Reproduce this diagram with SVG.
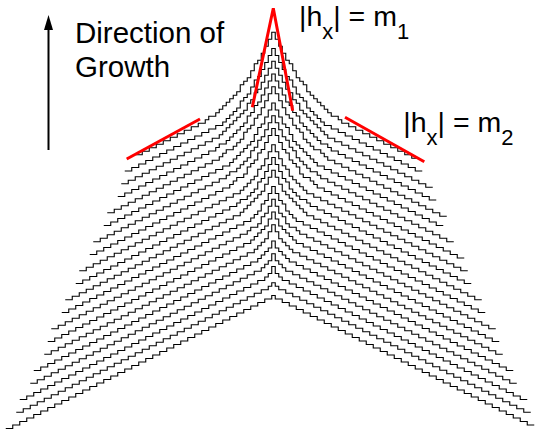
<svg xmlns="http://www.w3.org/2000/svg" width="537" height="438" viewBox="0 0 537 438">
<style>
.c{fill:none;stroke:#000;stroke-width:1.1;stroke-linejoin:miter}
.r{fill:none;stroke:#ff0000;stroke-width:3}
.t{font-family:"Liberation Sans",Arial,sans-serif;font-size:28.5px;fill:#000}
.big{font-size:29.5px}
.s{font-size:22px}
</style>
<rect width="537" height="438" fill="#fff"/>
<g id="curves">
<path id="curve0" class="c" d="M5.75 428.5 h7v-3.5 h7v-3.5 h7v-3.5 h7v-3.5 h7v-3.5 h7v-3.5 h7v-3.5 h7v-3.5 h7v-3.5 h7v-3.5 h7v-3.5 h7v-3.5 h7v-3.5 h7v-3.5 h7v-3.5 h7v-3.5 h7v-3.5 h7v-3.5 h7v-3.5 h7v-3.5 h7v-3.5 h7v-3.5 h7v-3.5 h7v-3.5 h7v-3.5 h7v-3.5 h7v-3.5 h7v-3.5 h7v-3.5 h7v-3.5 h7v-3.5 h7v-3.5 h7v-3.5 h7v-3.5 h7v-3.5 h7v-3.5 h7v-3.5 h7v-3.5 h3.5 v3.5h7 v3.5h7 v3.5h7 v3.5h7 v3.5h7 v3.5h7 v3.5h7 v3.5h7 v3.5h7 v3.5h7 v3.5h7 v3.5h7 v3.5h7 v3.5h7 v3.5h7 v3.5h7 v3.5h7 v3.5h7 v3.5h7 v3.5h7 v3.5h7 v3.5h7 v3.5h7 v3.5h7 v3.5h7 v3.5h7 v3.5h7 v3.5h7 v3.5h7 v3.5h7 v3.5h7 v3.5h7 v3.5h7 v3.5h7 v3.5h7 v3.5h7 v3.5h7"/>
<path id="curve1" class="c" d="M16.25 412.25 h7v-3.5 h7v-3.5 h7v-3.5 h7v-3.5 h7v-3.5 h7v-3.5 h7v-3.5 h7v-3.5 h7v-3.5 h7v-3.5 h7v-3.5 h7v-3.5 h7v-3.5 h7v-3.5 h7v-3.5 h7v-3.5 h7v-3.5 h7v-3.5 h7v-3.5 h7v-3.5 h7v-3.5 h7v-3.5 h7v-3.5 h7v-3.5 h7v-3.5 h7v-3.5 h7v-3.5 h7v-3.5 h7v-3.5 h7v-3.5 h7v-3.5 h7v-3.5 h7v-3.5 h7v-3.5 h7v-3.5 h7v-3.5 h3.5v-3.5h3.5v3.5h3.5 v3.5h7 v3.5h7 v3.5h7 v3.5h7 v3.5h7 v3.5h7 v3.5h7 v3.5h7 v3.5h7 v3.5h7 v3.5h7 v3.5h7 v3.5h7 v3.5h7 v3.5h7 v3.5h7 v3.5h7 v3.5h7 v3.5h7 v3.5h7 v3.5h7 v3.5h7 v3.5h7 v3.5h7 v3.5h7 v3.5h7 v3.5h7 v3.5h7 v3.5h7 v3.5h7 v3.5h7 v3.5h7 v3.5h7 v3.5h7 v3.5h7 v3.5h7"/>
<path id="curve2" class="c" d="M19.75 399.5 h7v-3.5 h7v-3.5 h7v-3.5 h7v-3.5 h7v-3.5 h7v-3.5 h7v-3.5 h7v-3.5 h7v-3.5 h7v-3.5 h7v-3.5 h7v-3.5 h7v-3.5 h7v-3.5 h7v-3.5 h7v-3.5 h7v-3.5 h7v-3.5 h7v-3.5 h7v-3.5 h7v-3.5 h7v-3.5 h7v-3.5 h7v-3.5 h7v-3.5 h7v-3.5 h7v-3.5 h7v-3.5 h7v-3.5 h7v-3.5 h7v-3.5 h7v-3.5 h7v-3.5 h7v-3.5 h7v-3.5 h3.5v-3.5h3.5v-7h3.5v7h3.5v3.5h3.5 v3.5h7 v3.5h7 v3.5h7 v3.5h7 v3.5h7 v3.5h7 v3.5h7 v3.5h7 v3.5h7 v3.5h7 v3.5h7 v3.5h7 v3.5h7 v3.5h7 v3.5h7 v3.5h7 v3.5h7 v3.5h7 v3.5h7 v3.5h7 v3.5h7 v3.5h7 v3.5h7 v3.5h7 v3.5h7 v3.5h7 v3.5h7 v3.5h7 v3.5h7 v3.5h7 v3.5h7 v3.5h7 v3.5h7 v3.5h7 v3.5h7"/>
<path id="curve3" class="c" d="M30.25 383.25 h7v-3.5 h7v-3.5 h7v-3.5 h7v-3.5 h7v-3.5 h7v-3.5 h7v-3.5 h7v-3.5 h7v-3.5 h7v-3.5 h7v-3.5 h7v-3.5 h7v-3.5 h7v-3.5 h7v-3.5 h7v-3.5 h7v-3.5 h7v-3.5 h7v-3.5 h7v-3.5 h7v-3.5 h7v-3.5 h7v-3.5 h7v-3.5 h7v-3.5 h7v-3.5 h7v-3.5 h7v-3.5 h7v-3.5 h7v-3.5 h7v-3.5 h7v-3.5 h7v-3.5 h3.5v-3.5h3.5v-3.5h3.5v-7h3.5v7h3.5v3.5h3.5v3.5h3.5 v3.5h7 v3.5h7 v3.5h7 v3.5h7 v3.5h7 v3.5h7 v3.5h7 v3.5h7 v3.5h7 v3.5h7 v3.5h7 v3.5h7 v3.5h7 v3.5h7 v3.5h7 v3.5h7 v3.5h7 v3.5h7 v3.5h7 v3.5h7 v3.5h7 v3.5h7 v3.5h7 v3.5h7 v3.5h7 v3.5h7 v3.5h7 v3.5h7 v3.5h7 v3.5h7 v3.5h7 v3.5h7 v3.5h7"/>
<path id="curve4" class="c" d="M33.75 370.5 h7v-3.5 h7v-3.5 h7v-3.5 h7v-3.5 h7v-3.5 h7v-3.5 h7v-3.5 h7v-3.5 h7v-3.5 h7v-3.5 h7v-3.5 h7v-3.5 h7v-3.5 h7v-3.5 h7v-3.5 h7v-3.5 h7v-3.5 h7v-3.5 h7v-3.5 h7v-3.5 h7v-3.5 h7v-3.5 h7v-3.5 h7v-3.5 h7v-3.5 h7v-3.5 h7v-3.5 h7v-3.5 h7v-3.5 h7v-3.5 h7v-3.5 h7v-3.5 h3.5v-3.5h3.5v-3.5h3.5v-3.5h3.5v-7h3.5v7h3.5v3.5h3.5v3.5h3.5v3.5h3.5 v3.5h7 v3.5h7 v3.5h7 v3.5h7 v3.5h7 v3.5h7 v3.5h7 v3.5h7 v3.5h7 v3.5h7 v3.5h7 v3.5h7 v3.5h7 v3.5h7 v3.5h7 v3.5h7 v3.5h7 v3.5h7 v3.5h7 v3.5h7 v3.5h7 v3.5h7 v3.5h7 v3.5h7 v3.5h7 v3.5h7 v3.5h7 v3.5h7 v3.5h7 v3.5h7 v3.5h7 v3.5h7"/>
<path id="curve5" class="c" d="M44.25 354.25 h7v-3.5 h7v-3.5 h7v-3.5 h7v-3.5 h7v-3.5 h7v-3.5 h7v-3.5 h7v-3.5 h7v-3.5 h7v-3.5 h7v-3.5 h7v-3.5 h7v-3.5 h7v-3.5 h7v-3.5 h7v-3.5 h7v-3.5 h7v-3.5 h7v-3.5 h7v-3.5 h7v-3.5 h7v-3.5 h7v-3.5 h7v-3.5 h7v-3.5 h7v-3.5 h7v-3.5 h7v-3.5 h7v-3.5 h7v-3.5 h3.5v-3.5h3.5v-3.5h3.5v-3.5h3.5v-7h3.5v-7h3.5v7h3.5v7h3.5v3.5h3.5v3.5h3.5v3.5h3.5 v3.5h7 v3.5h7 v3.5h7 v3.5h7 v3.5h7 v3.5h7 v3.5h7 v3.5h7 v3.5h7 v3.5h7 v3.5h7 v3.5h7 v3.5h7 v3.5h7 v3.5h7 v3.5h7 v3.5h7 v3.5h7 v3.5h7 v3.5h7 v3.5h7 v3.5h7 v3.5h7 v3.5h7 v3.5h7 v3.5h7 v3.5h7 v3.5h7 v3.5h7 v3.5h7"/>
<path id="curve6" class="c" d="M47.75 341.5 h7v-3.5 h7v-3.5 h7v-3.5 h7v-3.5 h7v-3.5 h7v-3.5 h7v-3.5 h7v-3.5 h7v-3.5 h7v-3.5 h7v-3.5 h7v-3.5 h7v-3.5 h7v-3.5 h7v-3.5 h7v-3.5 h7v-3.5 h7v-3.5 h7v-3.5 h7v-3.5 h7v-3.5 h7v-3.5 h7v-3.5 h7v-3.5 h7v-3.5 h7v-3.5 h7v-3.5 h7v-3.5 h7v-3.5 h3.5v-3.5h3.5v-3.5h3.5v-3.5h3.5v-3.5h3.5v-7h3.5v-7h3.5v7h3.5v7h3.5v3.5h3.5v3.5h3.5v3.5h3.5v3.5h3.5 v3.5h7 v3.5h7 v3.5h7 v3.5h7 v3.5h7 v3.5h7 v3.5h7 v3.5h7 v3.5h7 v3.5h7 v3.5h7 v3.5h7 v3.5h7 v3.5h7 v3.5h7 v3.5h7 v3.5h7 v3.5h7 v3.5h7 v3.5h7 v3.5h7 v3.5h7 v3.5h7 v3.5h7 v3.5h7 v3.5h7 v3.5h7 v3.5h7 v3.5h7"/>
<path id="curve7" class="c" d="M51.25 328.75 h7v-3.5 h7v-3.5 h7v-3.5 h7v-3.5 h7v-3.5 h7v-3.5 h7v-3.5 h7v-3.5 h7v-3.5 h7v-3.5 h7v-3.5 h7v-3.5 h7v-3.5 h7v-3.5 h7v-3.5 h7v-3.5 h7v-3.5 h7v-3.5 h7v-3.5 h7v-3.5 h7v-3.5 h7v-3.5 h7v-3.5 h7v-3.5 h7v-3.5 h7v-3.5 h7v-3.5 h7v-3.5 h3.5v-3.5h7v-3.5h3.5v-7h3.5v-3.5h3.5v-7h3.5v-7h3.5v7h3.5v7h3.5v3.5h3.5v7h3.5v3.5h7v3.5h3.5 v3.5h7 v3.5h7 v3.5h7 v3.5h7 v3.5h7 v3.5h7 v3.5h7 v3.5h7 v3.5h7 v3.5h7 v3.5h7 v3.5h7 v3.5h7 v3.5h7 v3.5h7 v3.5h7 v3.5h7 v3.5h7 v3.5h7 v3.5h7 v3.5h7 v3.5h7 v3.5h7 v3.5h7 v3.5h7 v3.5h7 v3.5h7 v3.5h7"/>
<path id="curve8" class="c" d="M61.75 312.5 h7v-3.5 h7v-3.5 h7v-3.5 h7v-3.5 h7v-3.5 h7v-3.5 h7v-3.5 h7v-3.5 h7v-3.5 h7v-3.5 h7v-3.5 h7v-3.5 h7v-3.5 h7v-3.5 h7v-3.5 h7v-3.5 h7v-3.5 h7v-3.5 h7v-3.5 h7v-3.5 h7v-3.5 h7v-3.5 h7v-3.5 h7v-3.5 h7v-3.5 h7v-3.5 h7v-3.5h3.5v-3.5h3.5v-3.5h3.5v-7h3.5v-3.5h3.5v-7h3.5v-7h3.5v7h3.5v7h3.5v3.5h3.5v7h3.5v3.5h3.5v3.5h3.5v3.5h7 v3.5h7 v3.5h7 v3.5h7 v3.5h7 v3.5h7 v3.5h7 v3.5h7 v3.5h7 v3.5h7 v3.5h7 v3.5h7 v3.5h7 v3.5h7 v3.5h7 v3.5h7 v3.5h7 v3.5h7 v3.5h7 v3.5h7 v3.5h7 v3.5h7 v3.5h7 v3.5h7 v3.5h7 v3.5h7 v3.5h7"/>
<path id="curve9" class="c" d="M65.25 299.75 h7v-3.5 h7v-3.5 h7v-3.5 h7v-3.5 h7v-3.5 h7v-3.5 h7v-3.5 h7v-3.5 h7v-3.5 h7v-3.5 h7v-3.5 h7v-3.5 h7v-3.5 h7v-3.5 h7v-3.5 h7v-3.5 h7v-3.5 h7v-3.5 h7v-3.5 h7v-3.5 h7v-3.5 h7v-3.5 h7v-3.5 h7v-3.5 h7v-3.5 h3.5v-3.5h3.5v-3.5h3.5v-3.5h3.5v-3.5h3.5v-3.5h3.5v-3.5h3.5v-7h3.5v-7h3.5v-7h3.5v7h3.5v7h3.5v7h3.5v3.5h3.5v3.5h3.5v3.5h3.5v3.5h3.5v3.5h3.5v3.5h3.5 v3.5h7 v3.5h7 v3.5h7 v3.5h7 v3.5h7 v3.5h7 v3.5h7 v3.5h7 v3.5h7 v3.5h7 v3.5h7 v3.5h7 v3.5h7 v3.5h7 v3.5h7 v3.5h7 v3.5h7 v3.5h7 v3.5h7 v3.5h7 v3.5h7 v3.5h7 v3.5h7 v3.5h7 v3.5h7"/>
<path id="curve10" class="c" d="M75.75 283.5 h7v-3.5 h7v-3.5 h7v-3.5 h7v-3.5 h7v-3.5 h7v-3.5 h7v-3.5 h7v-3.5 h7v-3.5 h7v-3.5 h7v-3.5 h7v-3.5 h7v-3.5 h7v-3.5 h7v-3.5 h7v-3.5 h7v-3.5 h7v-3.5 h7v-3.5 h7v-3.5 h7v-3.5 h7v-3.5 h7v-3.5 h3.5v-3.5h7v-3.5h3.5v-3.5h3.5v-3.5h3.5v-7h3.5v-3.5h3.5v-7h3.5v-7h3.5v-7h3.5v7h3.5v7h3.5v7h3.5v3.5h3.5v7h3.5v3.5h3.5v3.5h3.5v3.5h7v3.5h3.5 v3.5h7 v3.5h7 v3.5h7 v3.5h7 v3.5h7 v3.5h7 v3.5h7 v3.5h7 v3.5h7 v3.5h7 v3.5h7 v3.5h7 v3.5h7 v3.5h7 v3.5h7 v3.5h7 v3.5h7 v3.5h7 v3.5h7 v3.5h7 v3.5h7 v3.5h7 v3.5h7"/>
<path id="curve11" class="c" d="M79.25 270.75 h7v-3.5 h7v-3.5 h7v-3.5 h7v-3.5 h7v-3.5 h7v-3.5 h7v-3.5 h7v-3.5 h7v-3.5 h7v-3.5 h7v-3.5 h7v-3.5 h7v-3.5 h7v-3.5 h7v-3.5 h7v-3.5 h7v-3.5 h7v-3.5 h7v-3.5 h7v-3.5 h7v-3.5 h7v-3.5 h7v-3.5h3.5v-3.5h3.5v-3.5h3.5v-3.5h3.5v-3.5h3.5v-7h3.5v-3.5h3.5v-7h3.5v-7h3.5v-7h3.5v7h3.5v7h3.5v7h3.5v3.5h3.5v7h3.5v3.5h3.5v3.5h3.5v3.5h3.5v3.5h3.5v3.5h7 v3.5h7 v3.5h7 v3.5h7 v3.5h7 v3.5h7 v3.5h7 v3.5h7 v3.5h7 v3.5h7 v3.5h7 v3.5h7 v3.5h7 v3.5h7 v3.5h7 v3.5h7 v3.5h7 v3.5h7 v3.5h7 v3.5h7 v3.5h7 v3.5h7 v3.5h7"/>
<path id="curve12" class="c" d="M89.75 254.5 h7v-3.5 h7v-3.5 h7v-3.5 h7v-3.5 h7v-3.5 h7v-3.5 h7v-3.5 h7v-3.5 h7v-3.5 h7v-3.5 h7v-3.5 h7v-3.5 h7v-3.5 h7v-3.5 h7v-3.5 h7v-3.5 h7v-3.5 h7v-3.5 h7v-3.5 h7v-3.5 h3.5v-3.5h3.5v-3.5h7v-3.5h3.5v-7h3.5v-3.5h3.5v-3.5h3.5v-7h3.5v-3.5h3.5v-7h3.5v-7h3.5v-7h3.5v7h3.5v7h3.5v7h3.5v3.5h3.5v7h3.5v3.5h3.5v3.5h3.5v7h3.5v3.5h7v3.5h3.5v3.5h3.5 v3.5h7 v3.5h7 v3.5h7 v3.5h7 v3.5h7 v3.5h7 v3.5h7 v3.5h7 v3.5h7 v3.5h7 v3.5h7 v3.5h7 v3.5h7 v3.5h7 v3.5h7 v3.5h7 v3.5h7 v3.5h7 v3.5h7 v3.5h7 v3.5h7"/>
<path id="curve13" class="c" d="M93.25 241.75 h7v-3.5 h7v-3.5 h7v-3.5 h7v-3.5 h7v-3.5 h7v-3.5 h7v-3.5 h7v-3.5 h7v-3.5 h7v-3.5 h7v-3.5 h7v-3.5 h7v-3.5 h7v-3.5 h7v-3.5 h7v-3.5 h7v-3.5 h7v-3.5 h7v-3.5 h3.5v-3.5h7v-3.5h3.5v-3.5h3.5v-3.5h3.5v-3.5h3.5v-7h3.5v-3.5h3.5v-7h3.5v-3.5h3.5v-7h3.5v-7h3.5v-7h3.5v7h3.5v7h3.5v7h3.5v3.5h3.5v7h3.5v3.5h3.5v7h3.5v3.5h3.5v3.5h3.5v3.5h3.5v3.5h7v3.5h3.5 v3.5h7 v3.5h7 v3.5h7 v3.5h7 v3.5h7 v3.5h7 v3.5h7 v3.5h7 v3.5h7 v3.5h7 v3.5h7 v3.5h7 v3.5h7 v3.5h7 v3.5h7 v3.5h7 v3.5h7 v3.5h7 v3.5h7"/>
<path id="curve14" class="c" d="M103.75 225.5 h7v-3.5 h7v-3.5 h7v-3.5 h7v-3.5 h7v-3.5 h7v-3.5 h7v-3.5 h7v-3.5 h7v-3.5 h7v-3.5 h7v-3.5 h7v-3.5 h7v-3.5 h7v-3.5 h7v-3.5 h7v-3.5 h7v-3.5 h7v-3.5h3.5v-3.5h3.5v-3.5h3.5v-3.5h3.5v-3.5h3.5v-3.5h3.5v-3.5h3.5v-7h3.5v-7h3.5v-3.5h3.5v-7h3.5v-7h3.5v-7h3.5v7h3.5v7h3.5v7h3.5v3.5h3.5v7h3.5v7h3.5v3.5h3.5v3.5h3.5v3.5h3.5v3.5h3.5v3.5h3.5v3.5h3.5v3.5h7 v3.5h7 v3.5h7 v3.5h7 v3.5h7 v3.5h7 v3.5h7 v3.5h7 v3.5h7 v3.5h7 v3.5h7 v3.5h7 v3.5h7 v3.5h7 v3.5h7 v3.5h7 v3.5h7 v3.5h7"/>
<path id="curve15" class="c" d="M107.25 212.75 h7v-3.5 h7v-3.5 h7v-3.5 h7v-3.5 h7v-3.5 h7v-3.5 h7v-3.5 h7v-3.5 h7v-3.5 h7v-3.5 h7v-3.5 h7v-3.5 h7v-3.5 h7v-3.5 h7v-3.5 h7v-3.5 h3.5v-3.5h3.5v-3.5h7v-3.5h3.5v-3.5h3.5v-3.5h3.5v-7h3.5v-3.5h3.5v-3.5h3.5v-7h3.5v-3.5h3.5v-7h3.5v-7h3.5v-7h3.5v-7h3.5v7h3.5v7h3.5v7h3.5v7h3.5v3.5h3.5v7h3.5v3.5h3.5v3.5h3.5v7h3.5v3.5h3.5v3.5h3.5v3.5h7v3.5h3.5v3.5h3.5 v3.5h7 v3.5h7 v3.5h7 v3.5h7 v3.5h7 v3.5h7 v3.5h7 v3.5h7 v3.5h7 v3.5h7 v3.5h7 v3.5h7 v3.5h7 v3.5h7 v3.5h7 v3.5h7 v3.5h7"/>
<path id="curve16" class="c" d="M117.75 196.5 h7v-3.5 h7v-3.5 h7v-3.5 h7v-3.5 h7v-3.5 h7v-3.5 h7v-3.5 h7v-3.5 h7v-3.5 h7v-3.5 h7v-3.5 h7v-3.5 h7v-3.5 h7v-3.5 h3.5v-3.5h7v-3.5h3.5v-3.5h3.5v-3.5h3.5v-3.5h3.5v-3.5h3.5v-3.5h3.5v-7h3.5v-3.5h3.5v-7h3.5v-3.5h3.5v-7h3.5v-7h3.5v-7h3.5v-7h3.5v7h3.5v7h3.5v7h3.5v7h3.5v3.5h3.5v7h3.5v3.5h3.5v7h3.5v3.5h3.5v3.5h3.5v3.5h3.5v3.5h3.5v3.5h3.5v3.5h7v3.5h3.5 v3.5h7 v3.5h7 v3.5h7 v3.5h7 v3.5h7 v3.5h7 v3.5h7 v3.5h7 v3.5h7 v3.5h7 v3.5h7 v3.5h7 v3.5h7 v3.5h7 v3.5h7"/>
<path id="curve17" class="c" d="M121.25 183.75 h7v-3.5 h7v-3.5 h7v-3.5 h7v-3.5 h7v-3.5 h7v-3.5 h7v-3.5 h7v-3.5 h7v-3.5 h7v-3.5 h7v-3.5 h7v-3.5 h7v-3.5 h7v-3.5 h3.5v-3.5 h3.5v-3.5 h3.5v-3.5 h3.5v-3.5 h3.5v-3.5 h3.5v-3.5 h3.5v-3.5 h3.5v-7h3.5v-3.5h3.5v-7h3.5v-3.5 h3.5v-7h3.5v-7h3.5v-7h3.5v-7 h3.5 v7h3.5v7h3.5v7h3.5v7h3.5 v3.5h3.5v7h3.5v3.5h3.5v7h3.5 v3.5h3.5 v3.5h3.5 v3.5h3.5 v3.5h3.5 v3.5h3.5 v3.5h3.5 v3.5h3.5 v3.5h7 v3.5h7 v3.5h7 v3.5h7 v3.5h7 v3.5h7 v3.5h7 v3.5h7 v3.5h7 v3.5h7 v3.5h7 v3.5h7 v3.5h7 v3.5h7 v3.5h7"/>
<path id="curve18" class="c" d="M124.75 171 h7v-3.5 h7v-3.5 h7v-3.5 h7v-3.5 h7v-3.5 h7v-3.5 h7v-3.5 h7v-3.5 h7v-3.5 h7v-3.5 h7v-3.5 h7v-3.5 h7v-3.5h7v-3.5 h3.5v-3.5 h3.5v-3.5 h3.5v-3.5 h3.5v-3.5 h3.5v-7h3.5v-3.5h3.5v-3.5h3.5v-7h3.5v-7h3.5v-3.5 h3.5v-7h3.5v-7h3.5v-7h3.5v-7 h3.5 v7h3.5v7h3.5v7h3.5v7h3.5 v3.5h3.5v7h3.5v7h3.5v3.5h3.5v3.5h3.5v7h3.5 v3.5h3.5 v3.5h3.5 v3.5h3.5 v3.5h3.5 v3.5h7v3.5h7 v3.5h7 v3.5h7 v3.5h7 v3.5h7 v3.5h7 v3.5h7 v3.5h7 v3.5h7 v3.5h7 v3.5h7 v3.5h7 v3.5h7"/>
<path id="curve19" class="c" d="M135.25 154.75 h7v-3.5 h7v-3.5 h7v-3.5 h7v-3.5 h7v-3.5 h7v-3.5 h7v-3.5 h7v-3.5 h7v-3.5 h7v-3.5 h3.5v-3.5h7v-3.5 h3.5v-3.5 h3.5v-3.5 h3.5v-3.5 h3.5v-3.5 h3.5v-3.5 h3.5v-3.5 h3.5v-7h3.5v-3.5h3.5v-3.5h3.5v-7h3.5v-7h3.5v-3.5 h3.5v-7h3.5v-7h3.5v-7h3.5v-7 h3.5 v7h3.5v7h3.5v7h3.5v7h3.5 v3.5h3.5v7h3.5v7h3.5v3.5h3.5v3.5h3.5v7h3.5 v3.5h3.5 v3.5h3.5 v3.5h3.5 v3.5h3.5 v3.5h3.5 v3.5h3.5 v3.5h7v3.5h3.5 v3.5h7 v3.5h7 v3.5h7 v3.5h7 v3.5h7 v3.5h7 v3.5h7 v3.5h7 v3.5h7 v3.5h7 v3.5h7"/>
</g>
<g id="tangents">
<polyline class="r" points="252.3,107.3 273.3,8.3 292.7,110.7"/>
<line class="r" x1="126.7" y1="159" x2="200" y2="119"/>
<line class="r" x1="345" y1="117.3" x2="424.3" y2="161.7"/>
</g>
<g id="growth-arrow">
<line x1="48.5" y1="150" x2="48.5" y2="27" stroke="#000" stroke-width="2"/>
<polygon points="48.5,15 44,30 53,30" fill="#000"/>
<text class="t big" x="75" y="43">Direction of</text>
<text class="t big" x="75" y="77">Growth</text>
</g>
<g id="labels">
<text class="t" x="299" y="25.5">|h<tspan class="s" dy="13">x</tspan><tspan dy="-13">| = m</tspan><tspan class="s" dy="13">1</tspan></text>
<text class="t" x="403.3" y="131.5">|h<tspan class="s" dy="13">x</tspan><tspan dy="-13">| = m</tspan><tspan class="s" dy="13">2</tspan></text>
</g>
</svg>
